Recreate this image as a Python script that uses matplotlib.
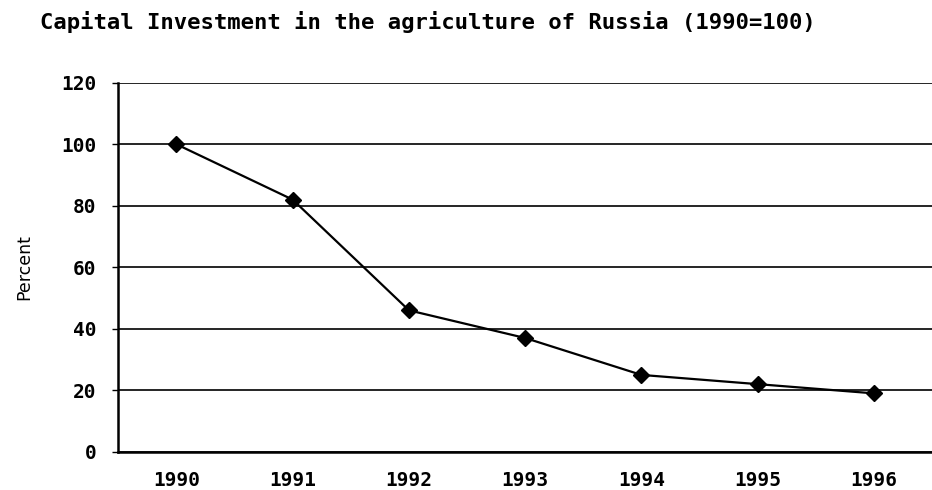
import matplotlib
matplotlib.use('Agg')
import matplotlib.pyplot as plt

years = ['1990', '1991', '1992', '1993', '1994', '1995', '1996']
invest = [100, 82, 46, 37, 25, 22, 19]
yticks = [0, 20, 40, 60, 80, 100, 120]

fig = plt.figure(figsize=(9.32, 4.9), dpi=100)
ax = fig.add_axes([0.127, 0.078, 0.873, 0.753])

x = list(range(len(years)))
ax.plot(x, invest, color='black', lw=1.6, marker='D', ms=8, zorder=3)

ax.set_xlim(-0.5, len(years) - 0.5)
ax.set_ylim(0, 120)
ax.set_yticks(yticks)
ax.set_xticks(x)
ax.set_xticklabels(years)
ax.yaxis.grid(True, color='black', lw=1.2)
ax.set_axisbelow(True)

for s in ['top', 'right']:
    ax.spines[s].set_visible(False)
ax.spines['left'].set_linewidth(1.8)
ax.spines['bottom'].set_linewidth(1.8)
ax.tick_params(axis='y', length=4, width=1, pad=12, labelsize=14)
ax.tick_params(axis='x', length=0, pad=14, labelsize=14)
for lab in ax.get_xticklabels() + ax.get_yticklabels():
    lab.set_fontweight('bold')
    lab.set_family('DejaVu Sans Mono')

ax.set_ylabel('Percent', fontsize=12.5, labelpad=20)
fig.text(0.043, 0.955, 'Capital Investment in the agriculture of Russia (1990=100)',
         fontsize=16, fontweight='bold', family='DejaVu Sans Mono',
         ha='left', va='center')

plt.savefig('out.png', dpi=100)
print('saved out.png')
